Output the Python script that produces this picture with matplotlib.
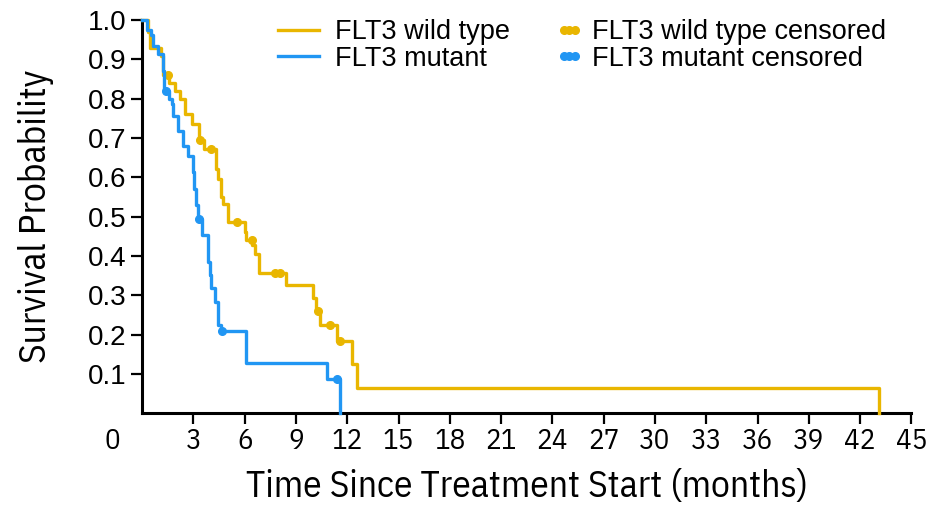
import matplotlib
matplotlib.use("Agg")
import matplotlib.pyplot as plt
from matplotlib.lines import Line2D
from matplotlib.legend_handler import HandlerLine2D

# Kaplan-Meier steps: time of each drop (months) and survival after it
wt_time = [0, 0.35, 0.45, 1.1, 1.2, 1.6, 1.9, 2.2, 2.5, 2.9, 3.3, 3.6, 4.3, 4.45,
           4.6, 4.75, 5.05, 6.0, 6.1, 6.45, 6.6, 6.85, 8.4, 10.0, 10.15, 10.4,
           11.4, 12.3, 12.55, 43.1]
wt_surv = [1.0, 0.97, 0.93, 0.91, 0.86, 0.84, 0.82, 0.80, 0.76, 0.735, 0.695, 0.672,
           0.62, 0.596, 0.55, 0.533, 0.487, 0.462, 0.44, 0.427, 0.406, 0.356, 0.325,
           0.292, 0.26, 0.225, 0.183, 0.124, 0.063, 0.0]
wt_cens_time = [1.5, 3.4, 4.0, 5.55, 6.4, 7.75, 8.05, 10.3, 11.0, 11.6]
wt_cens_surv = [0.86, 0.695, 0.672, 0.487, 0.44, 0.356, 0.356, 0.26, 0.225, 0.183]

mu_time = [0, 0.3, 0.5, 0.65, 0.9, 1.2, 1.3, 1.6, 1.72, 1.82, 2.1, 2.4, 2.7, 2.95,
           3.05, 3.15, 3.25, 3.48, 3.85, 3.95, 4.0, 4.25, 4.45, 4.62, 6.1, 10.8, 11.55]
mu_surv = [1.0, 0.976, 0.963, 0.934, 0.913, 0.87, 0.82, 0.80, 0.786, 0.756, 0.718,
           0.68, 0.655, 0.613, 0.571, 0.53, 0.495, 0.453, 0.385, 0.351, 0.318, 0.284,
           0.225, 0.21, 0.128, 0.086, 0.0]
mu_cens_time = [1.4, 3.3, 4.7, 11.4]
mu_cens_surv = [0.82, 0.495, 0.21, 0.086]

x_ticks = list(range(3, 46, 3))
y_ticks = [0.1, 0.2, 0.3, 0.4, 0.5, 0.6, 0.7, 0.8, 0.9, 1.0]

yellow = "#E9B600"
blue = "#2196F3"
narrow = ["IBM Plex Sans Condensed", "DejaVu Sans"]
regular = ["Liberation Sans", "DejaVu Sans"]


class RightDots(HandlerLine2D):
    # three censor dots packed toward the label side of the handle
    def get_xdata(self, legend, xdescent, ydescent, width, height, fontsize):
        xd, xm = super().get_xdata(legend, xdescent, ydescent, width, height, fontsize)
        shift = 0.55 * fontsize
        return xd + shift, xm + shift


fig = plt.figure(figsize=(9.29, 5.05), dpi=100)
ax = fig.add_axes([0.153, 0.182, 0.828, 0.778])

ax.step(wt_time, wt_surv, where="post", color=yellow, lw=2.4, clip_on=False, zorder=3)
ax.step(mu_time, mu_surv, where="post", color=blue, lw=2.4, clip_on=False, zorder=4)
ax.plot(wt_cens_time, wt_cens_surv, "o", color=yellow, ms=5.5, zorder=3)
ax.plot(mu_cens_time, mu_cens_surv, "o", color=blue, ms=5.5, zorder=4)

ax.set_xlim(0, 45)
ax.set_ylim(0, 1.0)
for s in ["top", "right"]:
    ax.spines[s].set_visible(False)
for s in ["left", "bottom"]:
    ax.spines[s].set_linewidth(2.2)

ax.set_xticks(x_ticks)
ax.set_xticklabels([str(v) for v in x_ticks], family=narrow, fontsize=21)
ax.set_yticks(y_ticks)
ax.set_yticklabels([f"{v:.1f}" for v in y_ticks], family=regular, fontsize=20)
ax.tick_params(axis="both", direction="out", length=8, width=1.6, color="black")
ax.tick_params(axis="x", pad=3)
ax.tick_params(axis="y", pad=3)

# origin label sits left of the axis corner
ax.annotate("0", xy=(-1.75, 0), xycoords=("data", "axes fraction"),
            xytext=(0, -11), textcoords="offset points",
            ha="center", va="top", family=narrow, fontsize=21, annotation_clip=False)

ax.set_xlabel("Time Since Treatment Start (months)", family=narrow, fontsize=27, labelpad=10)
ax.set_ylabel("Survival Probability", family=narrow, fontsize=27, labelpad=25)

handles = [
    Line2D([], [], color=yellow, lw=2.4),
    Line2D([], [], color=blue, lw=2.4),
    Line2D([], [], color=yellow, marker="o", ms=5.5, ls="none"),
    Line2D([], [], color=blue, marker="o", ms=5.5, ls="none"),
]
labels = ["FLT3 wild type", "FLT3 mutant", "FLT3 wild type censored", "FLT3 mutant censored"]
dots = RightDots(numpoints=3, marker_pad=0.55)
fig.legend(handles, labels, loc="upper left", bbox_to_anchor=(278 / 929, 1 - 19 / 505),
           ncol=2, frameon=False, prop={"family": regular, "size": 19.5},
           handlelength=1.5, handletextpad=0.62, columnspacing=0.88, labelspacing=0.02,
           borderpad=0, borderaxespad=0,
           handler_map={handles[2]: dots, handles[3]: dots})

fig.savefig("out.png", dpi=100)
